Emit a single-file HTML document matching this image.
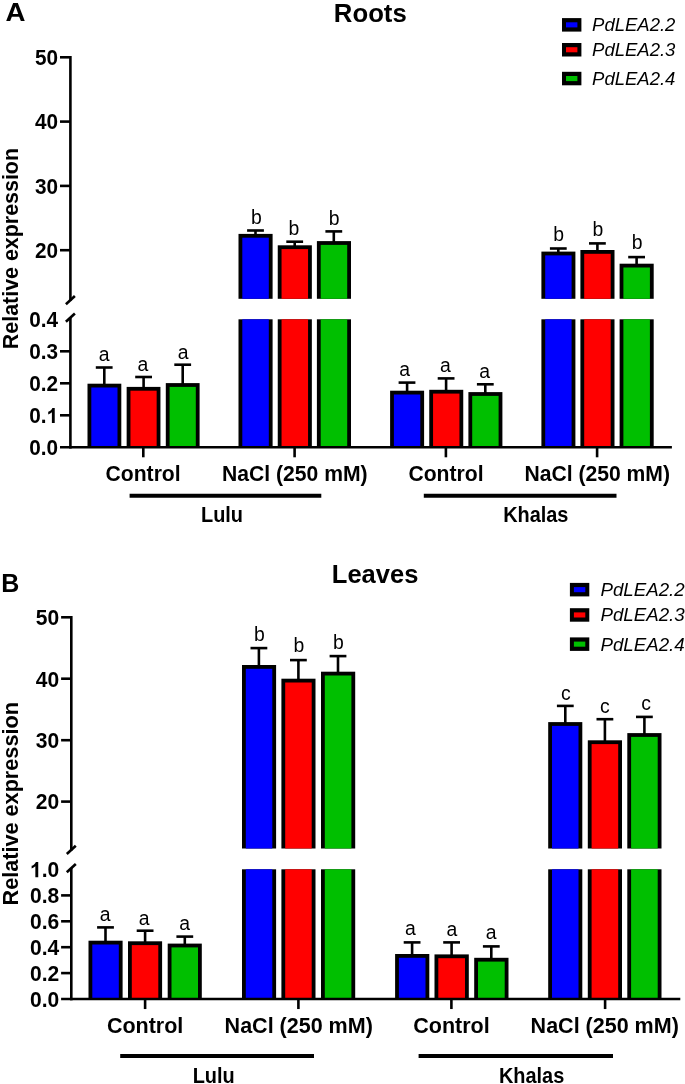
<!DOCTYPE html>
<html><head><meta charset="utf-8"><title>PdLEA2 relative expression</title>
<style>
html,body{margin:0;padding:0;background:#fff;}
svg{display:block;will-change:transform;font-family:"Liberation Sans",sans-serif;fill:#000;}
</style></head>
<body>
<svg width="685" height="1084" viewBox="0 0 685 1084">
<rect x="0" y="0" width="685" height="1084" fill="#fff"/>
<line x1="104.3" y1="367.5" x2="104.3" y2="384.7" stroke="#000" stroke-width="2.6" stroke-linecap="butt"/>
<line x1="95.8" y1="367.5" x2="112.6" y2="367.5" stroke="#000" stroke-width="2.6" stroke-linecap="butt"/>
<rect x="87.50" y="383.70" width="33.80" height="63.60" fill="#000"/>
<rect x="91.30" y="387.50" width="26.20" height="59.80" fill="#0000ff"/>
<text x="104.1" y="360.8" font-size="19.4" font-weight="normal" font-style="normal" text-anchor="middle">a</text>
<line x1="143.6" y1="377" x2="143.6" y2="387.9" stroke="#000" stroke-width="2.6" stroke-linecap="butt"/>
<line x1="135.2" y1="377" x2="152" y2="377" stroke="#000" stroke-width="2.6" stroke-linecap="butt"/>
<rect x="126.65" y="386.90" width="33.80" height="60.40" fill="#000"/>
<rect x="130.45" y="390.70" width="26.20" height="56.60" fill="#ff0000"/>
<text x="142.95" y="370.9" font-size="19.4" font-weight="normal" font-style="normal" text-anchor="middle">a</text>
<line x1="182.7" y1="364.7" x2="182.7" y2="384.1" stroke="#000" stroke-width="2.6" stroke-linecap="butt"/>
<line x1="174.3" y1="364.7" x2="191.1" y2="364.7" stroke="#000" stroke-width="2.6" stroke-linecap="butt"/>
<rect x="165.80" y="383.10" width="33.80" height="64.20" fill="#000"/>
<rect x="169.60" y="386.90" width="26.20" height="60.40" fill="#00bf00"/>
<text x="183.1" y="358.6" font-size="19.4" font-weight="normal" font-style="normal" text-anchor="middle">a</text>
<line x1="255.5" y1="230.5" x2="255.5" y2="234.9" stroke="#000" stroke-width="2.6" stroke-linecap="butt"/>
<line x1="247.1" y1="230.5" x2="263.9" y2="230.5" stroke="#000" stroke-width="2.6" stroke-linecap="butt"/>
<rect x="238.50" y="233.90" width="34.10" height="64.90" fill="#000"/>
<rect x="242.30" y="237.70" width="26.50" height="61.10" fill="#0000ff"/>
<rect x="238.50" y="319.30" width="34.10" height="128.00" fill="#000"/>
<rect x="242.30" y="319.30" width="26.50" height="128.00" fill="#0000ff"/>
<text x="256.35" y="223.9" font-size="19.4" font-weight="normal" font-style="normal" text-anchor="middle">b</text>
<line x1="294.7" y1="241.7" x2="294.7" y2="246.3" stroke="#000" stroke-width="2.6" stroke-linecap="butt"/>
<line x1="286.3" y1="241.7" x2="303.1" y2="241.7" stroke="#000" stroke-width="2.6" stroke-linecap="butt"/>
<rect x="277.75" y="245.30" width="34.10" height="53.50" fill="#000"/>
<rect x="281.55" y="249.10" width="26.50" height="49.70" fill="#ff0000"/>
<rect x="277.75" y="319.30" width="34.10" height="128.00" fill="#000"/>
<rect x="281.55" y="319.30" width="26.50" height="128.00" fill="#ff0000"/>
<text x="293.8" y="235.0" font-size="19.4" font-weight="normal" font-style="normal" text-anchor="middle">b</text>
<line x1="333.8" y1="231.4" x2="333.8" y2="242.1" stroke="#000" stroke-width="2.6" stroke-linecap="butt"/>
<line x1="325.4" y1="231.4" x2="342.2" y2="231.4" stroke="#000" stroke-width="2.6" stroke-linecap="butt"/>
<rect x="316.90" y="241.10" width="34.10" height="57.70" fill="#000"/>
<rect x="320.70" y="244.90" width="26.50" height="53.90" fill="#00bf00"/>
<rect x="316.90" y="319.30" width="34.10" height="128.00" fill="#000"/>
<rect x="320.70" y="319.30" width="26.50" height="128.00" fill="#00bf00"/>
<text x="334.05" y="225.1" font-size="19.4" font-weight="normal" font-style="normal" text-anchor="middle">b</text>
<line x1="407.1" y1="382.6" x2="407.1" y2="391.7" stroke="#000" stroke-width="2.6" stroke-linecap="butt"/>
<line x1="398.6" y1="382.6" x2="415.4" y2="382.6" stroke="#000" stroke-width="2.6" stroke-linecap="butt"/>
<rect x="390.10" y="390.70" width="34.00" height="56.60" fill="#000"/>
<rect x="393.90" y="394.50" width="26.40" height="52.80" fill="#0000ff"/>
<text x="404.7" y="375.6" font-size="19.4" font-weight="normal" font-style="normal" text-anchor="middle">a</text>
<line x1="446.1" y1="378.4" x2="446.1" y2="390.8" stroke="#000" stroke-width="2.6" stroke-linecap="butt"/>
<line x1="437.7" y1="378.4" x2="454.5" y2="378.4" stroke="#000" stroke-width="2.6" stroke-linecap="butt"/>
<rect x="429.25" y="389.80" width="34.00" height="57.50" fill="#000"/>
<rect x="433.05" y="393.60" width="26.40" height="53.70" fill="#ff0000"/>
<text x="445.35" y="371.9" font-size="19.4" font-weight="normal" font-style="normal" text-anchor="middle">a</text>
<line x1="485.3" y1="384.3" x2="485.3" y2="393.1" stroke="#000" stroke-width="2.6" stroke-linecap="butt"/>
<line x1="476.9" y1="384.3" x2="493.7" y2="384.3" stroke="#000" stroke-width="2.6" stroke-linecap="butt"/>
<rect x="468.40" y="392.10" width="34.00" height="55.20" fill="#000"/>
<rect x="472.20" y="395.90" width="26.40" height="51.40" fill="#00bf00"/>
<text x="484.7" y="377.5" font-size="19.4" font-weight="normal" font-style="normal" text-anchor="middle">a</text>
<line x1="558.3" y1="248.5" x2="558.3" y2="252.6" stroke="#000" stroke-width="2.6" stroke-linecap="butt"/>
<line x1="549.9" y1="248.5" x2="566.7" y2="248.5" stroke="#000" stroke-width="2.6" stroke-linecap="butt"/>
<rect x="541.40" y="251.60" width="34.00" height="47.20" fill="#000"/>
<rect x="545.20" y="255.40" width="26.40" height="43.40" fill="#0000ff"/>
<rect x="541.40" y="319.30" width="34.00" height="128.00" fill="#000"/>
<rect x="545.20" y="319.30" width="26.40" height="128.00" fill="#0000ff"/>
<text x="558.6" y="241.0" font-size="19.4" font-weight="normal" font-style="normal" text-anchor="middle">b</text>
<line x1="597.4" y1="243.4" x2="597.4" y2="251" stroke="#000" stroke-width="2.6" stroke-linecap="butt"/>
<line x1="589" y1="243.4" x2="605.8" y2="243.4" stroke="#000" stroke-width="2.6" stroke-linecap="butt"/>
<rect x="580.40" y="250.00" width="34.10" height="48.80" fill="#000"/>
<rect x="584.20" y="253.80" width="26.50" height="45.00" fill="#ff0000"/>
<rect x="580.40" y="319.30" width="34.10" height="128.00" fill="#000"/>
<rect x="584.20" y="319.30" width="26.50" height="128.00" fill="#ff0000"/>
<text x="597.85" y="236.3" font-size="19.4" font-weight="normal" font-style="normal" text-anchor="middle">b</text>
<line x1="636.6" y1="257.1" x2="636.6" y2="264.7" stroke="#000" stroke-width="2.6" stroke-linecap="butt"/>
<line x1="628.2" y1="257.1" x2="645" y2="257.1" stroke="#000" stroke-width="2.6" stroke-linecap="butt"/>
<rect x="619.60" y="263.70" width="34.10" height="35.10" fill="#000"/>
<rect x="623.40" y="267.50" width="26.50" height="31.30" fill="#00bf00"/>
<rect x="619.60" y="319.30" width="34.10" height="128.00" fill="#000"/>
<rect x="623.40" y="319.30" width="26.50" height="128.00" fill="#00bf00"/>
<text x="637.15" y="248.6" font-size="19.4" font-weight="normal" font-style="normal" text-anchor="middle">b</text>
<line x1="70.4" y1="56.0" x2="70.4" y2="300.75" stroke="#000" stroke-width="2.6" stroke-linecap="butt"/>
<line x1="70.4" y1="317.45" x2="70.4" y2="448.6" stroke="#000" stroke-width="2.6" stroke-linecap="butt"/>
<line x1="65.9" y1="304.25" x2="74.9" y2="296.04999999999995" stroke="#000" stroke-width="2.6" stroke-linecap="butt"/>
<line x1="65.9" y1="321.75" x2="74.9" y2="313.54999999999995" stroke="#000" stroke-width="2.6" stroke-linecap="butt"/>
<line x1="60" y1="57.3" x2="70.4" y2="57.3" stroke="#000" stroke-width="2.6" stroke-linecap="butt"/>
<line x1="60" y1="121.6" x2="70.4" y2="121.6" stroke="#000" stroke-width="2.6" stroke-linecap="butt"/>
<line x1="60" y1="185.9" x2="70.4" y2="185.9" stroke="#000" stroke-width="2.6" stroke-linecap="butt"/>
<line x1="60" y1="250.2" x2="70.4" y2="250.2" stroke="#000" stroke-width="2.6" stroke-linecap="butt"/>
<line x1="60" y1="351.3" x2="70.4" y2="351.3" stroke="#000" stroke-width="2.6" stroke-linecap="butt"/>
<line x1="60" y1="383.3" x2="70.4" y2="383.3" stroke="#000" stroke-width="2.6" stroke-linecap="butt"/>
<line x1="60" y1="415.3" x2="70.4" y2="415.3" stroke="#000" stroke-width="2.6" stroke-linecap="butt"/>
<line x1="60" y1="447.3" x2="671.9" y2="447.3" stroke="#000" stroke-width="2.6" stroke-linecap="butt"/>
<line x1="143.3" y1="447.3" x2="143.3" y2="457.3" stroke="#000" stroke-width="2.6" stroke-linecap="butt"/>
<line x1="294.6" y1="447.3" x2="294.6" y2="457.3" stroke="#000" stroke-width="2.6" stroke-linecap="butt"/>
<line x1="445.9" y1="447.3" x2="445.9" y2="457.3" stroke="#000" stroke-width="2.6" stroke-linecap="butt"/>
<line x1="597.1" y1="447.3" x2="597.1" y2="457.3" stroke="#000" stroke-width="2.6" stroke-linecap="butt"/>
<text transform="translate(58.1,65.1) scale(0.945,1)" font-size="21.95" font-weight="bold" font-style="normal" text-anchor="end">50</text>
<text transform="translate(58.1,129.4) scale(0.945,1)" font-size="21.95" font-weight="bold" font-style="normal" text-anchor="end">40</text>
<text transform="translate(58.1,193.7) scale(0.945,1)" font-size="21.95" font-weight="bold" font-style="normal" text-anchor="end">30</text>
<text transform="translate(58.1,258.0) scale(0.945,1)" font-size="21.95" font-weight="bold" font-style="normal" text-anchor="end">20</text>
<text transform="translate(58.1,327.1) scale(0.945,1)" font-size="21.95" font-weight="bold" font-style="normal" text-anchor="end">0.4</text>
<text transform="translate(58.1,359.1) scale(0.945,1)" font-size="21.95" font-weight="bold" font-style="normal" text-anchor="end">0.3</text>
<text transform="translate(58.1,391.1) scale(0.945,1)" font-size="21.95" font-weight="bold" font-style="normal" text-anchor="end">0.2</text>
<text transform="translate(46.57,423.1) scale(0.945,1)" font-size="21.95" font-weight="bold" font-style="normal" text-anchor="end">0.</text>
<path transform="translate(46.57,423.1) scale(0.01013,-0.01026)" d="M806 0H525V1059Q371 915 162 846V1101Q272 1137 401 1237.5T578 1472H806Z"/>
<text transform="translate(58.1,455.1) scale(0.945,1)" font-size="21.95" font-weight="bold" font-style="normal" text-anchor="end">0.0</text>
<text transform="translate(17.5,248.6) rotate(-90) scale(0.949,1)" font-size="22.57" font-weight="bold" text-anchor="middle">Relative expression</text>
<text transform="translate(143.1,481.3) scale(0.963,1)" font-size="21.95" font-weight="bold" font-style="normal" text-anchor="middle">Control</text>
<text transform="translate(294.8,481.3) scale(0.963,1)" font-size="21.95" font-weight="bold" font-style="normal" text-anchor="middle">NaCl (250 mM)</text>
<text transform="translate(446,481.3) scale(0.963,1)" font-size="21.95" font-weight="bold" font-style="normal" text-anchor="middle">Control</text>
<text transform="translate(597.2,481.3) scale(0.963,1)" font-size="21.95" font-weight="bold" font-style="normal" text-anchor="middle">NaCl (250 mM)</text>
<line x1="129.6" y1="495.7" x2="321.3" y2="495.7" stroke="#000" stroke-width="4" stroke-linecap="butt"/>
<text transform="translate(222,522.0) scale(0.931,1)" font-size="21.4" font-weight="bold" font-style="normal" text-anchor="middle">Lulu</text>
<line x1="423.8" y1="495.7" x2="616.5" y2="495.7" stroke="#000" stroke-width="4" stroke-linecap="butt"/>
<text transform="translate(535.8,522.0) scale(0.931,1)" font-size="21.4" font-weight="bold" font-style="normal" text-anchor="middle">Khalas</text>
<text transform="translate(370.3,22.4) scale(1.03,1)" font-size="25" font-weight="bold" font-style="normal" text-anchor="middle">Roots</text>
<text transform="translate(15.5,20.8) scale(1.07,1)" font-size="25.9" font-weight="bold" font-style="normal" text-anchor="middle">A</text>
<rect x="562.00" y="18.10" width="19.40" height="13.50" fill="#000"/>
<rect x="566.00" y="22.30" width="11.40" height="5.10" fill="#0000ff"/>
<text x="592.1" y="31.2" font-size="18.5" font-weight="normal" font-style="italic" text-anchor="start">PdLEA2.2</text>
<rect x="562.00" y="43.00" width="19.40" height="13.50" fill="#000"/>
<rect x="566.00" y="47.20" width="11.40" height="5.10" fill="#ff0000"/>
<text x="592.1" y="56.1" font-size="18.5" font-weight="normal" font-style="italic" text-anchor="start">PdLEA2.3</text>
<rect x="562.00" y="71.80" width="19.40" height="13.50" fill="#000"/>
<rect x="566.00" y="76.00" width="11.40" height="5.10" fill="#00bf00"/>
<text x="592.1" y="84.7" font-size="18.5" font-weight="normal" font-style="italic" text-anchor="start">PdLEA2.4</text>
<line x1="105.5" y1="927.4" x2="105.5" y2="941.7" stroke="#000" stroke-width="2.6" stroke-linecap="butt"/>
<line x1="97.1" y1="927.4" x2="113.9" y2="927.4" stroke="#000" stroke-width="2.6" stroke-linecap="butt"/>
<rect x="88.50" y="940.70" width="34.10" height="58.35" fill="#000"/>
<rect x="92.30" y="944.50" width="26.50" height="54.55" fill="#0000ff"/>
<text x="105.25" y="920.9" font-size="19.4" font-weight="normal" font-style="normal" text-anchor="middle">a</text>
<line x1="145.1" y1="930.7" x2="145.1" y2="942.3" stroke="#000" stroke-width="2.6" stroke-linecap="butt"/>
<line x1="136.7" y1="930.7" x2="153.5" y2="930.7" stroke="#000" stroke-width="2.6" stroke-linecap="butt"/>
<rect x="128.00" y="941.30" width="34.10" height="57.75" fill="#000"/>
<rect x="131.80" y="945.10" width="26.50" height="53.95" fill="#ff0000"/>
<text x="144.15" y="924.9" font-size="19.4" font-weight="normal" font-style="normal" text-anchor="middle">a</text>
<line x1="184.8" y1="936.6" x2="184.8" y2="944.6" stroke="#000" stroke-width="2.6" stroke-linecap="butt"/>
<line x1="176.4" y1="936.6" x2="193.2" y2="936.6" stroke="#000" stroke-width="2.6" stroke-linecap="butt"/>
<rect x="167.70" y="943.60" width="34.10" height="55.45" fill="#000"/>
<rect x="171.50" y="947.40" width="26.50" height="51.65" fill="#00bf00"/>
<text x="184.55" y="929.8" font-size="19.4" font-weight="normal" font-style="normal" text-anchor="middle">a</text>
<line x1="258.9" y1="648.1" x2="258.9" y2="666" stroke="#000" stroke-width="2.6" stroke-linecap="butt"/>
<line x1="250.5" y1="648.1" x2="267.3" y2="648.1" stroke="#000" stroke-width="2.6" stroke-linecap="butt"/>
<rect x="242.00" y="665.00" width="34.10" height="183.50" fill="#000"/>
<rect x="245.80" y="668.80" width="26.50" height="179.70" fill="#0000ff"/>
<rect x="242.00" y="869.30" width="34.10" height="129.75" fill="#000"/>
<rect x="245.80" y="869.30" width="26.50" height="129.75" fill="#0000ff"/>
<text x="259.45" y="641.4" font-size="19.4" font-weight="normal" font-style="normal" text-anchor="middle">b</text>
<line x1="298.4" y1="660.1" x2="298.4" y2="679.7" stroke="#000" stroke-width="2.6" stroke-linecap="butt"/>
<line x1="290" y1="660.1" x2="306.8" y2="660.1" stroke="#000" stroke-width="2.6" stroke-linecap="butt"/>
<rect x="281.40" y="678.70" width="34.10" height="169.80" fill="#000"/>
<rect x="285.20" y="682.50" width="26.50" height="166.00" fill="#ff0000"/>
<rect x="281.40" y="869.30" width="34.10" height="129.75" fill="#000"/>
<rect x="285.20" y="869.30" width="26.50" height="129.75" fill="#ff0000"/>
<text x="298.85" y="651.9" font-size="19.4" font-weight="normal" font-style="normal" text-anchor="middle">b</text>
<line x1="338" y1="656.1" x2="338" y2="672.7" stroke="#000" stroke-width="2.6" stroke-linecap="butt"/>
<line x1="329.6" y1="656.1" x2="346.4" y2="656.1" stroke="#000" stroke-width="2.6" stroke-linecap="butt"/>
<rect x="321.00" y="671.70" width="34.20" height="176.80" fill="#000"/>
<rect x="324.80" y="675.50" width="26.60" height="173.00" fill="#00bf00"/>
<rect x="321.00" y="869.30" width="34.20" height="129.75" fill="#000"/>
<rect x="324.80" y="869.30" width="26.60" height="129.75" fill="#00bf00"/>
<text x="338.3" y="649.4" font-size="19.4" font-weight="normal" font-style="normal" text-anchor="middle">b</text>
<line x1="412.1" y1="942.4" x2="412.1" y2="955" stroke="#000" stroke-width="2.6" stroke-linecap="butt"/>
<line x1="403.7" y1="942.4" x2="420.5" y2="942.4" stroke="#000" stroke-width="2.6" stroke-linecap="butt"/>
<rect x="395.10" y="954.00" width="34.20" height="45.05" fill="#000"/>
<rect x="398.90" y="957.80" width="26.60" height="41.25" fill="#0000ff"/>
<text x="410.3" y="934.8" font-size="19.4" font-weight="normal" font-style="normal" text-anchor="middle">a</text>
<line x1="451.6" y1="942.4" x2="451.6" y2="955.4" stroke="#000" stroke-width="2.6" stroke-linecap="butt"/>
<line x1="443.2" y1="942.4" x2="460" y2="942.4" stroke="#000" stroke-width="2.6" stroke-linecap="butt"/>
<rect x="434.50" y="954.40" width="34.30" height="44.65" fill="#000"/>
<rect x="438.30" y="958.20" width="26.70" height="40.85" fill="#ff0000"/>
<text x="451.85" y="936.1" font-size="19.4" font-weight="normal" font-style="normal" text-anchor="middle">a</text>
<line x1="491.3" y1="946.4" x2="491.3" y2="958.8" stroke="#000" stroke-width="2.6" stroke-linecap="butt"/>
<line x1="482.9" y1="946.4" x2="499.7" y2="946.4" stroke="#000" stroke-width="2.6" stroke-linecap="butt"/>
<rect x="474.20" y="957.80" width="34.30" height="41.25" fill="#000"/>
<rect x="478.00" y="961.60" width="26.70" height="37.45" fill="#00bf00"/>
<text x="491.15" y="939.3" font-size="19.4" font-weight="normal" font-style="normal" text-anchor="middle">a</text>
<line x1="565.3" y1="705.9" x2="565.3" y2="723.1" stroke="#000" stroke-width="2.6" stroke-linecap="butt"/>
<line x1="556.9" y1="705.9" x2="573.7" y2="705.9" stroke="#000" stroke-width="2.6" stroke-linecap="butt"/>
<rect x="548.20" y="722.10" width="34.10" height="126.40" fill="#000"/>
<rect x="552.00" y="725.90" width="26.50" height="122.60" fill="#0000ff"/>
<rect x="548.20" y="869.30" width="34.10" height="129.75" fill="#000"/>
<rect x="552.00" y="869.30" width="26.50" height="129.75" fill="#0000ff"/>
<text x="565.75" y="700.0" font-size="19.4" font-weight="normal" font-style="normal" text-anchor="middle">c</text>
<line x1="604.9" y1="719.2" x2="604.9" y2="741.3" stroke="#000" stroke-width="2.6" stroke-linecap="butt"/>
<line x1="596.5" y1="719.2" x2="613.3" y2="719.2" stroke="#000" stroke-width="2.6" stroke-linecap="butt"/>
<rect x="587.80" y="740.30" width="34.20" height="108.20" fill="#000"/>
<rect x="591.60" y="744.10" width="26.60" height="104.40" fill="#ff0000"/>
<rect x="587.80" y="869.30" width="34.20" height="129.75" fill="#000"/>
<rect x="591.60" y="869.30" width="26.60" height="129.75" fill="#ff0000"/>
<text x="604.8" y="712.9" font-size="19.4" font-weight="normal" font-style="normal" text-anchor="middle">c</text>
<line x1="644.4" y1="716.9" x2="644.4" y2="734.1" stroke="#000" stroke-width="2.6" stroke-linecap="butt"/>
<line x1="636" y1="716.9" x2="652.8" y2="716.9" stroke="#000" stroke-width="2.6" stroke-linecap="butt"/>
<rect x="627.30" y="733.10" width="34.20" height="115.40" fill="#000"/>
<rect x="631.10" y="736.90" width="26.60" height="111.60" fill="#00bf00"/>
<rect x="627.30" y="869.30" width="34.20" height="129.75" fill="#000"/>
<rect x="631.10" y="869.30" width="26.60" height="129.75" fill="#00bf00"/>
<text x="646.2" y="710.0" font-size="19.4" font-weight="normal" font-style="normal" text-anchor="middle">c</text>
<line x1="71.3" y1="616.0" x2="71.3" y2="850.5" stroke="#000" stroke-width="2.6" stroke-linecap="butt"/>
<line x1="71.3" y1="867.9" x2="71.3" y2="1000.3499999999999" stroke="#000" stroke-width="2.6" stroke-linecap="butt"/>
<line x1="66.8" y1="854.0" x2="75.8" y2="845.8" stroke="#000" stroke-width="2.6" stroke-linecap="butt"/>
<line x1="66.8" y1="872.2" x2="75.8" y2="864.0" stroke="#000" stroke-width="2.6" stroke-linecap="butt"/>
<line x1="61.1" y1="617.3" x2="71.3" y2="617.3" stroke="#000" stroke-width="2.6" stroke-linecap="butt"/>
<line x1="61.1" y1="678.7" x2="71.3" y2="678.7" stroke="#000" stroke-width="2.6" stroke-linecap="butt"/>
<line x1="61.1" y1="740.2" x2="71.3" y2="740.2" stroke="#000" stroke-width="2.6" stroke-linecap="butt"/>
<line x1="61.1" y1="801.6" x2="71.3" y2="801.6" stroke="#000" stroke-width="2.6" stroke-linecap="butt"/>
<line x1="61.1" y1="895.4" x2="71.3" y2="895.4" stroke="#000" stroke-width="2.6" stroke-linecap="butt"/>
<line x1="61.1" y1="921.3" x2="71.3" y2="921.3" stroke="#000" stroke-width="2.6" stroke-linecap="butt"/>
<line x1="61.1" y1="947.2" x2="71.3" y2="947.2" stroke="#000" stroke-width="2.6" stroke-linecap="butt"/>
<line x1="61.1" y1="973.1" x2="71.3" y2="973.1" stroke="#000" stroke-width="2.6" stroke-linecap="butt"/>
<line x1="61.1" y1="999.05" x2="680.3" y2="999.05" stroke="#000" stroke-width="2.6" stroke-linecap="butt"/>
<line x1="145.1" y1="999.05" x2="145.1" y2="1009.05" stroke="#000" stroke-width="2.6" stroke-linecap="butt"/>
<line x1="298.4" y1="999.05" x2="298.4" y2="1009.05" stroke="#000" stroke-width="2.6" stroke-linecap="butt"/>
<line x1="451.4" y1="999.05" x2="451.4" y2="1009.05" stroke="#000" stroke-width="2.6" stroke-linecap="butt"/>
<line x1="605.1" y1="999.05" x2="605.1" y2="1009.05" stroke="#000" stroke-width="2.6" stroke-linecap="butt"/>
<text transform="translate(59.2,625.1) scale(0.945,1)" font-size="22.26" font-weight="bold" font-style="normal" text-anchor="end">50</text>
<text transform="translate(59.2,686.5) scale(0.945,1)" font-size="22.26" font-weight="bold" font-style="normal" text-anchor="end">40</text>
<text transform="translate(59.2,748.0) scale(0.945,1)" font-size="22.26" font-weight="bold" font-style="normal" text-anchor="end">30</text>
<text transform="translate(59.2,809.4) scale(0.945,1)" font-size="22.26" font-weight="bold" font-style="normal" text-anchor="end">20</text>
<text transform="translate(59.2,877.3) scale(0.945,1)" font-size="22.26" font-weight="bold" font-style="normal" text-anchor="end">.0</text>
<path transform="translate(29.96,877.3) scale(0.01027,-0.01040)" d="M806 0H525V1059Q371 915 162 846V1101Q272 1137 401 1237.5T578 1472H806Z"/>
<text transform="translate(59.2,903.2) scale(0.945,1)" font-size="22.26" font-weight="bold" font-style="normal" text-anchor="end">0.8</text>
<text transform="translate(59.2,929.1) scale(0.945,1)" font-size="22.26" font-weight="bold" font-style="normal" text-anchor="end">0.6</text>
<text transform="translate(59.2,955.0) scale(0.945,1)" font-size="22.26" font-weight="bold" font-style="normal" text-anchor="end">0.4</text>
<text transform="translate(59.2,980.9) scale(0.945,1)" font-size="22.26" font-weight="bold" font-style="normal" text-anchor="end">0.2</text>
<text transform="translate(59.2,1006.85) scale(0.945,1)" font-size="22.26" font-weight="bold" font-style="normal" text-anchor="end">0.0</text>
<text transform="translate(17.8,803.8) rotate(-90) scale(0.946,1)" font-size="22.9" font-weight="bold" text-anchor="middle">Relative expression</text>
<text transform="translate(145.1,1033.1000000000001) scale(0.967,1)" font-size="22.26" font-weight="bold" font-style="normal" text-anchor="middle">Control</text>
<text transform="translate(298.7,1033.1000000000001) scale(0.967,1)" font-size="22.26" font-weight="bold" font-style="normal" text-anchor="middle">NaCl (250 mM)</text>
<text transform="translate(451.5,1033.1000000000001) scale(0.967,1)" font-size="22.26" font-weight="bold" font-style="normal" text-anchor="middle">Control</text>
<text transform="translate(604.7,1033.1000000000001) scale(0.967,1)" font-size="22.26" font-weight="bold" font-style="normal" text-anchor="middle">NaCl (250 mM)</text>
<line x1="120.2" y1="1056" x2="314" y2="1056" stroke="#000" stroke-width="4" stroke-linecap="butt"/>
<text transform="translate(213.7,1082.5) scale(0.931,1)" font-size="21.4" font-weight="bold" font-style="normal" text-anchor="middle">Lulu</text>
<line x1="418.6" y1="1056" x2="613" y2="1056" stroke="#000" stroke-width="4" stroke-linecap="butt"/>
<text transform="translate(531.6,1082.5) scale(0.931,1)" font-size="21.4" font-weight="bold" font-style="normal" text-anchor="middle">Khalas</text>
<text transform="translate(375.1,582.7) scale(1.01,1)" font-size="25.3" font-weight="bold" font-style="normal" text-anchor="middle">Leaves</text>
<text transform="translate(10.35,592) scale(0.97,1)" font-size="25.8" font-weight="bold" font-style="normal" text-anchor="middle">B</text>
<rect x="569.90" y="582.90" width="19.40" height="13.50" fill="#000"/>
<rect x="573.90" y="587.10" width="11.40" height="5.10" fill="#0000ff"/>
<text x="600.5" y="596.2" font-size="18.7" font-weight="normal" font-style="italic" text-anchor="start">PdLEA2.2</text>
<rect x="569.90" y="608.20" width="19.40" height="13.50" fill="#000"/>
<rect x="573.90" y="612.40" width="11.40" height="5.10" fill="#ff0000"/>
<text x="600.5" y="621.1" font-size="18.7" font-weight="normal" font-style="italic" text-anchor="start">PdLEA2.3</text>
<rect x="569.90" y="637.40" width="19.40" height="13.50" fill="#000"/>
<rect x="573.90" y="641.60" width="11.40" height="5.10" fill="#00bf00"/>
<text x="600.5" y="650.8" font-size="18.7" font-weight="normal" font-style="italic" text-anchor="start">PdLEA2.4</text>
</svg>
</body></html>
